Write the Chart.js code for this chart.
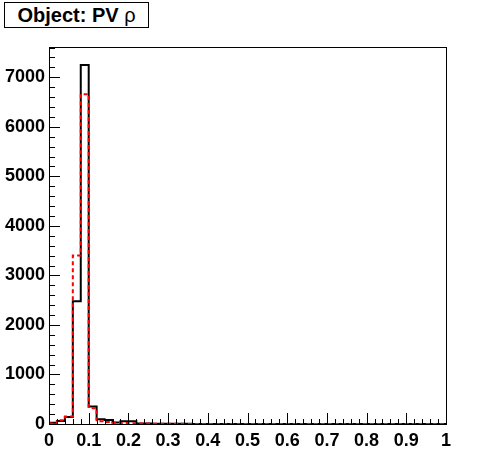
<!DOCTYPE html>
<html>
<head>
<meta charset="utf-8">
<script src="https://cdn.jsdelivr.net/npm/chart.js@4.4.1/dist/chart.umd.min.js"></script>
<style>
  html, body { margin: 0; padding: 0; background: #fff; }
  #wrap { position: relative; width: 496px; height: 472px; }
  #title {
    position: absolute; left: 4px; top: 2px; width: 143px; height: 24px;
    border: 1px solid #000; background: #fff;
    font: bold 20px 'Liberation Sans', Arial, sans-serif;
    text-align: center; line-height: 25px; color: #000;
  }
  #title span { font-weight: normal; }
</style>
</head>
<body>
<div id="wrap">
  <canvas id="histChart" width="496" height="472"></canvas>
  <div id="title">Object: PV <span>ρ</span></div>
</div>
<script>
// histogram: 50 bins of width 0.02 from 0 to 1
const BIN_WIDTH = 0.02;
const blackCounts = [25, 60, 140, 2480, 7250, 355, 95, 80, 30, 55,
                     55, 10, 8, 6, 5, 4, 3, 3, 2, 2,
                     1, 1, 1, 0, 0, 0, 0, 0, 0, 0,
                     0, 0, 0, 0, 0, 0, 0, 0, 0, 0,
                     0, 0, 0, 0, 0, 0, 0, 0, 0, 0];
const redCounts = [10, 75, 150, 3400, 6660, 320, 55, 40, 25, 20,
                   15, 10, 8, 5, 4, 3, 3, 2, 2, 1,
                   1, 1, 0, 0, 0, 0, 0, 0, 0, 0,
                   0, 0, 0, 0, 0, 0, 0, 0, 0, 0,
                   0, 0, 0, 0, 0, 0, 0, 0, 0, 0];
const xTicks = [0, 0.1, 0.2, 0.3, 0.4, 0.5, 0.6, 0.7, 0.8, 0.9, 1];
const yTicks = [0, 1000, 2000, 3000, 4000, 5000, 6000, 7000];
const Y_MAX = 7612;

// step outline points: left edge of each bin, plus closing point at x = 1
function toSteps(counts) {
    const pts = counts.map((c, i) => ({ x: i * BIN_WIDTH, y: c }));
    pts.push({ x: counts.length * BIN_WIDTH, y: counts[counts.length - 1] });
    return pts;
}

// ROOT-style frame and inward tick marks
const frameTicks = {
    id: 'frameTicks',
    afterDatasetsDraw(chart) {
        const { ctx, chartArea: a, scales: { x, y } } = chart;
        ctx.save();
        ctx.strokeStyle = '#000';
        ctx.lineWidth = 1;
        ctx.strokeRect(a.left + 0.5, a.top + 0.5, a.right - a.left, a.bottom - a.top);
        ctx.beginPath();
        for (let v = 0; v <= Y_MAX; v += 200) {
            const py = Math.round(y.getPixelForValue(v)) + 0.5;
            const len = v % 1000 === 0 ? 11 : 6;
            ctx.moveTo(a.left, py);
            ctx.lineTo(a.left + len, py);
        }
        for (let i = 0; i <= 50; i++) {
            const px = Math.round(x.getPixelForValue(i * BIN_WIDTH)) + 0.5;
            const len = i % 5 === 0 ? 11 : 5;
            ctx.moveTo(px, a.bottom);
            ctx.lineTo(px, a.bottom - len);
        }
        ctx.stroke();
        ctx.restore();
    }
};

const boldFont = { family: "'Liberation Sans', Arial, sans-serif", size: 18, weight: 'bold' };

new Chart(document.getElementById('histChart'), {
    type: 'line',
    data: {
        datasets: [
            {
                label: 'black',
                data: toSteps(blackCounts),
                borderColor: '#000',
                borderWidth: 2,
                stepped: 'before',
                pointRadius: 0,
                fill: false,
                order: 2
            },
            {
                label: 'red',
                data: toSteps(redCounts),
                borderColor: '#ff0000',
                borderWidth: 2,
                borderDash: [4, 3],
                stepped: 'before',
                pointRadius: 0,
                fill: false,
                order: 1
            }
        ]
    },
    options: {
        responsive: false,
        animation: false,
        layout: { padding: { top: 47, right: 50, left: 0, bottom: 0 } },
        plugins: { legend: { display: false }, tooltip: { enabled: false } },
        scales: {
            x: {
                type: 'linear',
                min: 0,
                max: 1,
                afterFit: s => { s.height = 48; },
                afterBuildTicks: s => { s.ticks = xTicks.map(v => ({ value: v })); },
                grid: { display: false, drawTicks: false },
                border: { display: false },
                ticks: {
                    color: '#000',
                    font: boldFont,
                    padding: 6,
                    maxRotation: 0,
                    autoSkip: false,
                    callback: v => String(+v.toFixed(1))
                }
            },
            y: {
                type: 'linear',
                min: 0,
                max: Y_MAX,
                afterFit: s => { s.width = 49; },
                afterBuildTicks: s => { s.ticks = yTicks.map(v => ({ value: v })); },
                grid: { display: false, drawTicks: false },
                border: { display: false },
                ticks: {
                    color: '#000',
                    font: boldFont,
                    padding: 4,
                    autoSkip: false,
                    callback: v => String(v)
                }
            }
        }
    },
    plugins: [frameTicks]
});
</script>
</body>
</html>
